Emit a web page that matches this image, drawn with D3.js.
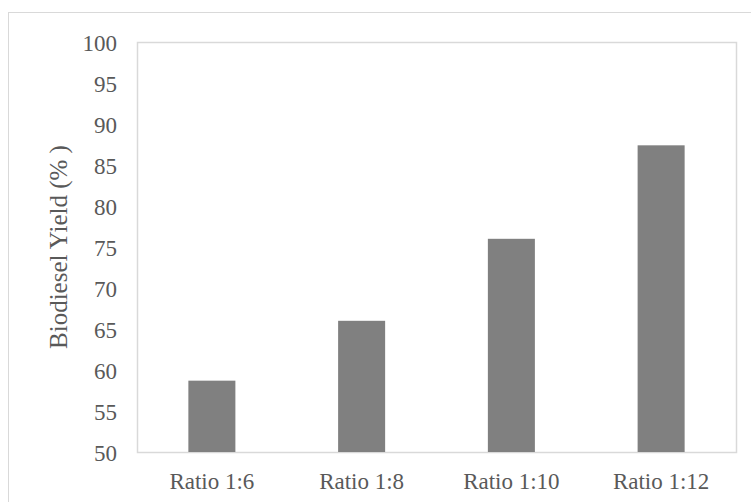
<!DOCTYPE html>
<html>
<head>
<meta charset="utf-8">
<script src="https://cdn.jsdelivr.net/npm/d3@7"></script>
<style>
body { margin: 0; background: #fff; }
</style>
</head>
<body>
<div id="chart"></div>
<script>
// data
var categories = ["Ratio 1:6", "Ratio 1:8", "Ratio 1:10", "Ratio 1:12"];
var yields = [58.7, 66.0, 76.0, 87.4];
var yTicks = [50, 55, 60, 65, 70, 75, 80, 85, 90, 95, 100];

var width = 751,
    height = 502;
var margin = {top: 42, right: 15, bottom: 50, left: 137};
var serif = "'Liberation Serif', 'Times New Roman', serif";

var svg = d3.select("#chart")
  .append("svg")
  .attr("width", width)
  .attr("height", height);

// outer chart border (right and bottom edges are cropped off)
svg.append("rect")
  .attr("x", 8.5)
  .attr("y", 12.5)
  .attr("width", width + 20)
  .attr("height", height + 20)
  .attr("fill", "none")
  .attr("stroke", "#d9d9d9")
  .attr("stroke-width", 1);

var x = d3.scaleBand()
  .domain(categories)
  .range([margin.left, width - margin.right])
  .paddingInner(0.686)
  .paddingOuter(0.343);

var y = d3.scaleLinear()
  .domain([50, 100])
  .range([height - margin.bottom, margin.top]);

// plot area border
svg.append("rect")
  .attr("x", margin.left + 0.5)
  .attr("y", margin.top + 0.5)
  .attr("width", width - margin.right - margin.left)
  .attr("height", height - margin.bottom - margin.top)
  .attr("fill", "none")
  .attr("stroke", "#d9d9d9")
  .attr("stroke-width", 1.5);

// bars
svg.append("g")
  .selectAll("rect")
  .data(yields)
  .enter()
  .append("rect")
  .attr("x", function(d, i) { return x(categories[i]); })
  .attr("y", function(d) { return y(d); })
  .attr("width", x.bandwidth())
  .attr("height", function(d) { return y(50) - y(d); })
  .attr("fill", "#808080");

// y axis labels
var yAxis = d3.axisLeft(y).tickValues(yTicks).tickSize(0).tickPadding(20);
var gy = svg.append("g")
  .attr("transform", "translate(" + margin.left + ",0)")
  .call(yAxis);
gy.select(".domain").remove();
gy.selectAll("text")
  .style("font-size", "23px")
  .style("font-family", serif)
  .attr("fill", "#595959")
  .attr("dy", "0.35em");

// x axis labels
var xAxis = d3.axisBottom(x).tickSize(0).tickPadding(0);
var gx = svg.append("g")
  .attr("transform", "translate(0," + (height - margin.bottom) + ")")
  .call(xAxis);
gx.select(".domain").remove();
gx.selectAll("text")
  .style("font-size", "23px")
  .style("font-family", serif)
  .attr("fill", "#595959")
  .attr("y", 37)
  .attr("dy", 0);

// y axis title
svg.append("text")
  .attr("transform", "translate(67," + ((margin.top + height - margin.bottom) / 2) + ") rotate(-90)")
  .attr("text-anchor", "middle")
  .style("font-size", "25px")
  .style("font-family", serif)
  .attr("fill", "#595959")
  .text("Biodiesel Yield (% )");
</script>
</body>
</html>
